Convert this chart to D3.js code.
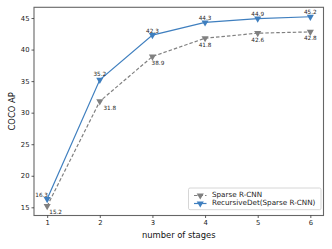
<!DOCTYPE html>
<html>
<head>
<meta charset="utf-8">
<script src="https://cdn.jsdelivr.net/npm/d3@7/dist/d3.min.js"></script>
<style>
  html, body { margin: 0; padding: 0; background: #fff; }
  svg { display: block; font-family: "DejaVu Sans", sans-serif; }
</style>
</head>
<body>
<div id="chart"></div>
<script>
const stages = [1, 2, 3, 4, 5, 6];
const sparseAP = [15.2, 31.8, 38.9, 41.8, 42.6, 42.8];
const recursiveAP = [16.3, 35.2, 42.3, 44.3, 44.9, 45.2];
const yTicks = [15, 20, 25, 30, 35, 40, 45];
const seriesNames = ['Sparse R-CNN', 'RecursiveDet(Sparse R-CNN)'];

const width = 332, height = 249;
const margin = { top: 7.3, right: 8.5, bottom: 33.5, left: 34 };
const iw = width - margin.left - margin.right;
const ih = height - margin.top - margin.bottom;

const x = d3.scaleLinear().domain([0.75, 6.25]).range([0, iw]);
const y = d3.scaleLinear().domain([13.7, 46.7]).range([ih, 0]);

const svgRoot = d3.select('#chart').append('svg')
  .attr('width', width).attr('height', height);
const svg = svgRoot.append('g').attr('transform', `translate(${margin.left},${margin.top})`);

const series = [
  { name: seriesNames[0], values: sparseAP, color: '#808080', dash: '3.5,2',
    // label offsets (dx, dy) relative to point, text centred
    labels: [[8.5, 6.5], [10, 7], [5.5, 7], [0, 7], [0, 7], [0, 7]] },
  { name: seriesNames[1], values: recursiveAP, color: '#3f7fbf', dash: null,
    labels: [[-5.5, -4], [0, -5], [0, -4], [0, -4], [0, -4], [0, -4.5]] },
];

const line = d3.line().x((d) => x(d[0])).y((d) => y(d[1]));
const tri = d3.symbol().type(d3.symbolTriangle).size(22);

for (const s of series) {
  const pts = stages.map((st, i) => [st, s.values[i]]);
  svg.append('path')
    .attr('d', line(pts))
    .attr('fill', 'none')
    .attr('stroke', s.color)
    .attr('stroke-width', 1.2)
    .attr('stroke-dasharray', s.dash);
  svg.append('g').selectAll('path')
    .data(pts)
    .join('path')
    .attr('d', tri)
    .attr('transform', (d) => `translate(${x(d[0])},${y(d[1])}) rotate(180)`)
    .attr('fill', s.color);
  svg.append('g').selectAll('text')
    .data(pts)
    .join('text')
    .attr('x', (d, i) => x(d[0]) + s.labels[i][0])
    .attr('y', (d, i) => y(d[1]) + s.labels[i][1])
    .attr('text-anchor', 'middle')
    .attr('dominant-baseline', 'middle')
    .attr('font-size', 5.7)
    .attr('fill', '#222')
    .text((d) => d[1].toFixed(1));
}

// frame
svg.append('rect')
  .attr('x', 0).attr('y', 0).attr('width', iw).attr('height', ih)
  .attr('fill', 'none').attr('stroke', '#666').attr('stroke-width', 1.1);

const xAxis = svg.append('g').attr('transform', `translate(0,${ih})`)
  .call(d3.axisBottom(x).tickValues(stages).tickSize(2.5).tickPadding(2).tickFormat(d3.format('d')));
const yAxis = svg.append('g')
  .call(d3.axisLeft(y).tickValues(yTicks).tickSize(2.5).tickPadding(2));
for (const ax of [xAxis, yAxis]) {
  ax.select('.domain').remove();
  ax.selectAll('.tick line').attr('stroke', '#333').attr('stroke-width', 0.8);
  ax.selectAll('.tick text').attr('font-size', 6.8).attr('fill', '#222')
    .attr('font-family', '"DejaVu Sans", sans-serif');
}

svgRoot.append('text')
  .attr('x', margin.left + iw / 2).attr('y', 238)
  .attr('text-anchor', 'middle').attr('font-size', 8.4).attr('fill', '#111')
  .text('number of stages');
svgRoot.append('text')
  .attr('transform', `translate(15,${margin.top + ih / 2}) rotate(-90)`)
  .attr('text-anchor', 'middle').attr('font-size', 8.4).attr('fill', '#111')
  .text('COCO AP');

// legend
const lg = svgRoot.append('g').attr('transform', 'translate(188.5,188)');
lg.append('rect')
  .attr('width', 132.5).attr('height', 21.7).attr('rx', 1.5)
  .attr('fill', '#fff').attr('fill-opacity', 0.8)
  .attr('stroke', '#ccc').attr('stroke-width', 0.8);
series.forEach((s, i) => {
  const row = lg.append('g').attr('transform', `translate(0,${7.5 + i * 8})`);
  row.append('line')
    .attr('x1', 5.5).attr('x2', 18).attr('y1', 0).attr('y2', 0)
    .attr('stroke', s.color).attr('stroke-width', 1.2)
    .attr('stroke-dasharray', s.dash);
  row.append('path')
    .attr('d', tri)
    .attr('transform', 'translate(11.75,0) rotate(180)')
    .attr('fill', s.color);
  row.append('text')
    .attr('x', 23.5).attr('y', 0)
    .attr('dominant-baseline', 'middle')
    .attr('font-size', 7.2).attr('fill', '#222')
    .text(s.name);
});
</script>
</body>
</html>
